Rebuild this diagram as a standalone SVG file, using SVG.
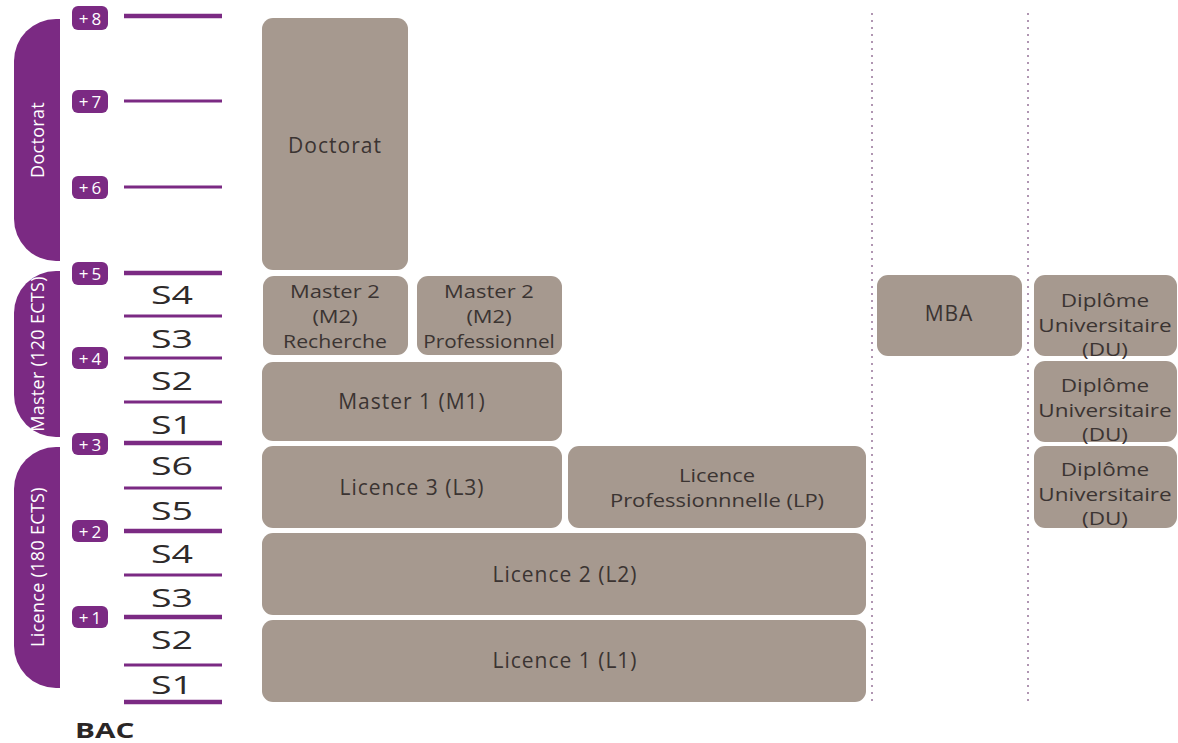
<svg xmlns="http://www.w3.org/2000/svg" width="1178" height="743" viewBox="0 0 1178 743">
<style>
.bg{fill:#ffffff}
.tab{fill:#7b2a83}
.tabt{fill:#ffffff;font-family:"Open Sans",sans-serif;font-size:18px;letter-spacing:0.3px;text-anchor:middle;dominant-baseline:central}
.badge{fill:#7b2a83}
.bt{fill:#ffffff;font-family:"Open Sans",sans-serif;font-size:17px;letter-spacing:3px;text-anchor:middle;dominant-baseline:central}
.thick{stroke:#7b2a83;stroke-width:4.5}
.thin{stroke:#7b2a83;stroke-width:3}
.sem{fill:#2e2a2a;font-family:"Open Sans",sans-serif;font-size:25px;text-anchor:middle;dominant-baseline:central}
.box{fill:#a6998f}
.lbl{fill:#3b3432;font-family:"Open Sans",sans-serif;font-size:21px;letter-spacing:1px;text-anchor:middle;dominant-baseline:central}
.ml{fill:#3b3432;font-family:"Open Sans",sans-serif;font-size:18px;text-anchor:middle;dominant-baseline:central}
.dot{stroke:#b096b2;stroke-width:2;stroke-dasharray:2 5;fill:none}
</style>
<rect class="bg" width="1178" height="743"/>

<g id="scale">
  <path class="tab" d="M60,19 L56,19 A42,42 0 0 0 14,61 L14,219 A42,42 0 0 0 56,261 L60,261 Z"/>
  <text class="tabt" transform="translate(37,140) rotate(-90)">Doctorat</text>
  <path class="tab" d="M60,271 L56,271 A42,42 0 0 0 14,313 L14,395 A42,42 0 0 0 56,437 L60,437 Z"/>
  <text class="tabt" transform="translate(37,354) rotate(-90)">Master (120 ECTS)</text>
  <path class="tab" d="M60,447 L56,447 A42,42 0 0 0 14,489 L14,646 A42,42 0 0 0 56,688 L60,688 Z"/>
  <text class="tabt" transform="translate(37,567) rotate(-90)">Licence (180 ECTS)</text>

  <rect class="badge" x="72" y="6" width="36" height="24" rx="6"/><text class="bt" x="91.5" y="18">+8</text>
  <rect class="badge" x="72" y="90" width="36" height="23" rx="6"/><text class="bt" x="91.5" y="101.5">+7</text>
  <rect class="badge" x="72" y="176" width="36" height="23" rx="6"/><text class="bt" x="91.5" y="187.5">+6</text>
  <rect class="badge" x="72" y="262" width="36" height="23" rx="6"/><text class="bt" x="91.5" y="273.5">+5</text>
  <rect class="badge" x="72" y="347" width="36" height="22" rx="6"/><text class="bt" x="91.5" y="358">+4</text>
  <rect class="badge" x="72" y="433" width="36" height="22" rx="6"/><text class="bt" x="91.5" y="444">+3</text>
  <rect class="badge" x="72" y="520" width="36" height="22" rx="6"/><text class="bt" x="91.5" y="531">+2</text>
  <rect class="badge" x="72" y="606" width="36" height="22" rx="6"/><text class="bt" x="91.5" y="617">+1</text>

  <line class="thick" x1="124" y1="16" x2="222" y2="16"/>
  <line class="thin" x1="124" y1="101" x2="222" y2="101"/>
  <line class="thin" x1="124" y1="187" x2="222" y2="187"/>
  <line class="thick" x1="124" y1="273" x2="222" y2="273"/>
  <line class="thin" x1="124" y1="316" x2="222" y2="316"/>
  <line class="thin" x1="124" y1="358" x2="222" y2="358"/>
  <line class="thin" x1="124" y1="402" x2="222" y2="402"/>
  <line class="thick" x1="124" y1="443" x2="222" y2="443"/>
  <line class="thin" x1="124" y1="488" x2="222" y2="488"/>
  <line class="thick" x1="124" y1="531" x2="222" y2="531"/>
  <line class="thin" x1="124" y1="575" x2="222" y2="575"/>
  <line class="thick" x1="124" y1="617" x2="222" y2="617"/>
  <line class="thin" x1="124" y1="665" x2="222" y2="665"/>
  <line class="thick" x1="124" y1="702" x2="222" y2="702"/>

  <text class="sem" transform="translate(172,294) scale(1.5,1)">S4</text>
  <text class="sem" transform="translate(172,338) scale(1.5,1)">S3</text>
  <text class="sem" transform="translate(172,380) scale(1.5,1)">S2</text>
  <text class="sem" transform="translate(172,424) scale(1.5,1)">S1</text>
  <text class="sem" transform="translate(172,465) scale(1.5,1)">S6</text>
  <text class="sem" transform="translate(172,510) scale(1.5,1)">S5</text>
  <text class="sem" transform="translate(172,553) scale(1.5,1)">S4</text>
  <text class="sem" transform="translate(172,597) scale(1.5,1)">S3</text>
  <text class="sem" transform="translate(172,639) scale(1.5,1)">S2</text>
  <text class="sem" transform="translate(172,684) scale(1.5,1)">S1</text>
  <text transform="translate(75,738) scale(1.35,1)" font-family="Open Sans, sans-serif" font-size="22" font-weight="bold" fill="#2a2626">BAC</text>
</g>

<g id="connectors">
  <line class="dot" x1="872" y1="13" x2="872" y2="704"/>
  <line class="dot" x1="1028" y1="13" x2="1028" y2="704"/>
</g>

<g id="doctorat"><rect class="box" x="262" y="18" width="146" height="252" rx="11"/><text class="lbl" x="335" y="145">Doctorat</text></g>
<g id="m2r"><rect class="box" x="263" y="276" width="145" height="79" rx="11"/>
  <text class="ml" transform="translate(335,291) scale(1.22,1)">Master 2</text>
  <text class="ml" transform="translate(335,316) scale(1.22,1)">(M2)</text>
  <text class="ml" transform="translate(335,341) scale(1.18,1)">Recherche</text></g>
<g id="m2p"><rect class="box" x="417" y="276" width="145" height="79" rx="11"/>
  <text class="ml" transform="translate(489,291) scale(1.22,1)">Master 2</text>
  <text class="ml" transform="translate(489,316) scale(1.22,1)">(M2)</text>
  <text class="ml" transform="translate(489,341) scale(1.15,1)" font-size="16">Professionnel</text></g>
<g id="m1"><rect class="box" x="262" y="362" width="300" height="79" rx="11"/><text class="lbl" x="412" y="401">Master 1 (M1)</text></g>
<g id="l3"><rect class="box" x="262" y="446" width="300" height="82" rx="11"/><text class="lbl" x="412" y="487">Licence 3 (L3)</text></g>
<g id="lp"><rect class="box" x="568" y="446" width="298" height="82" rx="11"/>
  <text class="ml" transform="translate(717,475) scale(1.22,1)">Licence</text>
  <text class="ml" transform="translate(717,500) scale(1.22,1)">Professionnnelle (LP)</text></g>
<g id="l2"><rect class="box" x="262" y="533" width="604" height="82" rx="11"/><text class="lbl" x="565" y="574">Licence 2 (L2)</text></g>
<g id="l1"><rect class="box" x="262" y="620" width="604" height="82" rx="11"/><text class="lbl" x="565" y="660">Licence 1 (L1)</text></g>
<g id="mba"><rect class="box" x="877" y="275" width="145" height="81" rx="11"/><text class="lbl" x="949" y="313">MBA</text></g>
<g id="du1"><rect class="box" x="1034" y="275" width="143" height="81" rx="11"/>
  <text class="ml" transform="translate(1105,300) scale(1.25,1)">Diplôme</text>
  <text class="ml" transform="translate(1105,324.5) scale(1.25,1)">Universitaire</text>
  <text class="ml" transform="translate(1105,349) scale(1.25,1)">(DU)</text></g>
<g id="du2"><rect class="box" x="1034" y="361" width="143" height="81" rx="11"/>
  <text class="ml" transform="translate(1105,385) scale(1.25,1)">Diplôme</text>
  <text class="ml" transform="translate(1105,409.5) scale(1.25,1)">Universitaire</text>
  <text class="ml" transform="translate(1105,434) scale(1.25,1)">(DU)</text></g>
<g id="du3"><rect class="box" x="1034" y="446" width="143" height="82" rx="11"/>
  <text class="ml" transform="translate(1105,469) scale(1.25,1)">Diplôme</text>
  <text class="ml" transform="translate(1105,493.5) scale(1.25,1)">Universitaire</text>
  <text class="ml" transform="translate(1105,518) scale(1.25,1)">(DU)</text></g>
</svg>
